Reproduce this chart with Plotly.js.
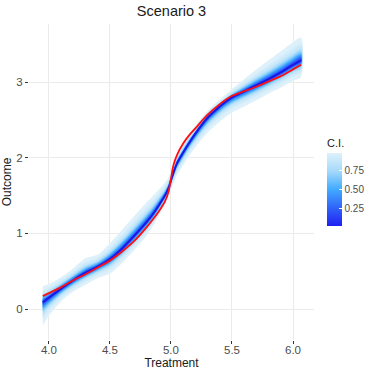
<!DOCTYPE html>
<html>
<head>
<meta charset="utf-8">
<script src="https://cdn.plot.ly/plotly-3.0.1.min.js"></script>
<style>
  html, body { margin: 0; padding: 0; background: #fff; }
  #chart { width: 374px; height: 374px; }
</style>
</head>
<body>
<div id="chart"></div>
<script>
// values
var treatment = [3.95, 4.0, 4.1, 4.2, 4.3, 4.4, 4.5, 4.6, 4.7, 4.8, 4.85, 4.9, 4.95, 4.98, 5.0,
                 5.02, 5.05, 5.1, 5.15, 5.2, 5.3, 5.4, 5.5, 5.6, 5.7, 5.8, 5.9, 6.0, 6.066];
var estimate  = [0.09, 0.15, 0.27, 0.38, 0.48, 0.56, 0.66, 0.80, 0.97, 1.15, 1.25, 1.37, 1.50, 1.60, 1.70,
                 1.80, 1.93, 2.07, 2.20, 2.32, 2.53, 2.68, 2.80, 2.88, 2.96, 3.04, 3.13, 3.23, 3.29];
var truth     = [0.17, 0.21, 0.29, 0.38, 0.46, 0.55, 0.64, 0.76, 0.90, 1.08, 1.18, 1.29, 1.42, 1.55, 1.72,
                 1.90, 2.04, 2.19, 2.30, 2.39, 2.57, 2.71, 2.82, 2.88, 2.94, 3.01, 3.08, 3.17, 3.23];
// distance of the outermost band edge above / below the estimate
var upperWidth = [0.21, 0.18, 0.15, 0.16, 0.19, 0.16, 0.21, 0.25, 0.26, 0.26, 0.24, 0.21, 0.17, 0.14, 0.13,
                  0.12, 0.12, 0.12, 0.11, 0.10, 0.09, 0.09, 0.11, 0.16, 0.21, 0.25, 0.28, 0.30, 0.30];
var lowerWidth = [0.31, 0.24, 0.17, 0.15, 0.16, 0.15, 0.19, 0.19, 0.19, 0.18, 0.16, 0.14, 0.12, 0.12, 0.12,
                  0.14, 0.16, 0.17, 0.17, 0.18, 0.20, 0.20, 0.20, 0.20, 0.20, 0.19, 0.20, 0.21, 0.22];
var ciLevels = [0.99, 0.95, 0.9, 0.8, 0.7, 0.6, 0.5, 0.4, 0.3, 0.2, 0.1];
var ciTicks = [0.25, 0.5, 0.75];

var colorStops = [[0, '#1f1ff2'], [0.5, '#40aaff'], [0.75, '#a4d9fa'], [1, '#def1fa']];
var ciMin = 0.02, ciMax = 0.99;

function hexToRgb(h) {
  return [parseInt(h.substr(1, 2), 16), parseInt(h.substr(3, 2), 16), parseInt(h.substr(5, 2), 16)];
}
function levelColor(v) {
  var t = (v - ciMin) / (ciMax - ciMin);
  t = Math.max(0, Math.min(1, t));
  for (var i = 1; i < colorStops.length; i++) {
    if (t <= colorStops[i][0]) {
      var a = colorStops[i - 1], b = colorStops[i];
      var f = (t - a[0]) / (b[0] - a[0]);
      var ca = hexToRgb(a[1]), cb = hexToRgb(b[1]);
      var c = ca.map(function (x, k) { return Math.round(x + (cb[k] - x) * f); });
      return 'rgb(' + c.join(',') + ')';
    }
  }
  return colorStops[colorStops.length - 1][1];
}

// two-sided normal quantile, sizes inner bands against the outer one
function zq(p) {
  var a = 0.147;
  var ln = Math.log(1 - p * p);
  var t1 = 2 / (Math.PI * a) + ln / 2;
  return Math.sqrt(2) * Math.sqrt(Math.sqrt(t1 * t1 - ln / a) - t1);
}
var zOuter = zq(ciLevels[0]);

var traces = [];
// widest band first, narrower ones painted over it
ciLevels.forEach(function (lev) {
  var r = zq(lev) / zOuter;
  var up = treatment.map(function (x, i) { return estimate[i] + upperWidth[i] * r; });
  var lo = treatment.map(function (x, i) { return estimate[i] - lowerWidth[i] * r; });
  traces.push({
    x: treatment.concat(treatment.slice().reverse()),
    y: up.concat(lo.slice().reverse()),
    type: 'scatter',
    mode: 'lines',
    fill: 'toself',
    fillcolor: levelColor(lev),
    line: { width: 0, shape: 'spline', smoothing: 0.8 },
    hoverinfo: 'skip',
    showlegend: false
  });
});

traces.push({
  x: treatment, y: estimate, type: 'scatter', mode: 'lines',
  line: { color: '#1a1ae8', width: 2, shape: 'spline', smoothing: 0.8 },
  showlegend: false
});
traces.push({
  x: treatment, y: truth, type: 'scatter', mode: 'lines',
  line: { color: '#ff1010', width: 1.8, shape: 'spline', smoothing: 0.8 },
  showlegend: false
});

// colour bar only
traces.push({
  x: [treatment[0]], y: [estimate[0]], type: 'scatter', mode: 'markers',
  marker: {
    size: 1, opacity: 0, color: [ciMin, ciMax], cmin: ciMin, cmax: ciMax,
    colorscale: colorStops, showscale: true,
    colorbar: {
      title: { text: 'C.I.', side: 'top', font: { size: 11, color: '#1a1a1a' } },
      tickvals: ciTicks, tickformat: '.2f',
      ticks: 'inside', ticklen: 3, tickcolor: '#ffffff',
      tickfont: { size: 10, color: '#4d4d4d' },
      thickness: 15, thicknessmode: 'pixels',
      len: 90, lenmode: 'pixels',
      x: 1.046, xanchor: 'left', y: 0.361, yanchor: 'bottom',
      xpad: 0, ypad: 0, outlinewidth: 0
    }
  },
  hoverinfo: 'skip', showlegend: false
});

var layout = {
  width: 374, height: 374,
  margin: { l: 29, r: 60, t: 24, b: 34, autoexpand: false },
  paper_bgcolor: '#ffffff', plot_bgcolor: '#ffffff',
  font: { family: 'Liberation Sans, Arial, sans-serif', color: '#1a1a1a' },
  title: {
    text: 'Scenario 3', font: { size: 14.5, color: '#1a1a1a' },
    x: 0.5, xref: 'paper', xanchor: 'center', y: 0.97, yref: 'container', yanchor: 'middle'
  },
  xaxis: {
    range: [3.837, 6.172],
    tickvals: [4, 4.5, 5, 5.5, 6], tickformat: '.1f',
    ticks: 'outside', ticklen: 3, tickcolor: '#333333',
    ticklabelstandoff: -4,
    tickfont: { size: 11.5, color: '#4d4d4d' },
    gridcolor: '#ebebeb', zeroline: false, showline: false,
    title: { text: 'Treatment', font: { size: 12 }, standoff: 0 }
  },
  yaxis: {
    range: [-0.41, 3.77],
    tickvals: [0, 1, 2, 3],
    ticks: 'outside', ticklen: 3, tickcolor: '#333333',
    tickfont: { size: 11.5, color: '#4d4d4d' },
    gridcolor: '#ebebeb', zeroline: false, showline: false,
    title: { text: 'Outcome', font: { size: 12 }, standoff: 4 }
  }
};

Plotly.newPlot('chart', traces, layout, { displayModeBar: false, staticPlot: true });
</script>
</body>
</html>
